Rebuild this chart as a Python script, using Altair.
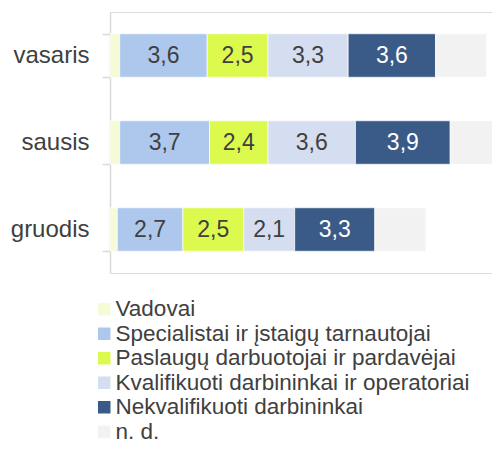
import altair as alt
import pandas as pd

months = ["vasaris", "sausis", "gruodis"]
groups = [
    "Vadovai",
    "Specialistai ir įstaigų tarnautojai",
    "Paslaugų darbuotojai ir pardavėjai",
    "Kvalifikuoti darbininkai ir operatoriai",
    "Nekvalifikuoti darbininkai",
    "n. d.",
]
vadovai = [0.4, 0.4, 0.3]
specialistai = [3.6, 3.7, 2.7]
paslaugu = [2.5, 2.4, 2.5]
kvalifikuoti = [3.3, 3.6, 2.1]
nekvalifikuoti = [3.6, 3.9, 3.3]
nd = [2.1, 2.5, 2.1]
colors = ["#F4FBD6", "#AEC7EC", "#DCF94E", "#D5DEF0", "#3A5A87", "#F2F2F2"]
show_label = [False, True, True, True, True, False]

series = [vadovai, specialistai, paslaugu, kvalifikuoti, nekvalifikuoti, nd]
rows = []
for gi, (g, vals) in enumerate(zip(groups, series)):
    for m, v in zip(months, vals):
        rows.append({"month": m, "group": g, "value": v, "order": gi, "show": show_label[gi]})
df = pd.DataFrame(rows)

FONT = "Liberation Sans"
xscale = alt.Scale(domain=[0, 15.72], nice=False, zero=True)
yenc = alt.Y(
    "month:N",
    sort=months,
    scale=alt.Scale(paddingInner=0.5, paddingOuter=0.25),
    axis=alt.Axis(
        title=None,
        labelFontSize=24,
        labelFont=FONT,
        labelColor="#404040",
        labelPadding=13,
        tickBand="extent",
        tickSize=8,
        tickColor="#D9D9D9",
        tickWidth=1.5,
        domainColor="#D9D9D9",
        domainWidth=1.5,
    ),
)

base = alt.Chart(df)

bars = base.mark_bar(clip=True, stroke="white", strokeWidth=0.7).encode(
    y=yenc,
    x=alt.X("value:Q", stack="zero", scale=xscale, axis=None),
    color=alt.Color(
        "group:N",
        sort=groups,
        scale=alt.Scale(domain=groups, range=colors),
        legend=alt.Legend(
            title=None,
            orient="none",
            legendX=-17,
            legendY=286,
            labelFontSize=22.5,
            labelFont=FONT,
            labelColor="#404040",
            symbolType="square",
            symbolSize=156,
            symbolStrokeWidth=0,
            rowPadding=1.5,
            labelOffset=0,
            labelLimit=420,
        ),
    ),
    order=alt.Order("order:Q"),
)

texts = (
    base.transform_stack(
        stack="value",
        groupby=["month"],
        as_=["x0", "x1"],
        sort=[alt.SortField("order")],
    )
    .transform_calculate(
        mid="(datum.x0 + datum.x1) / 2",
        label="replace(format(datum.value, '.1f'), '.', ',')",
    )
    .transform_filter("datum.show")
    .mark_text(fontSize=23, font=FONT, baseline="middle", align="center")
    .encode(
        y=alt.Y("month:N", sort=months),
        x=alt.X("mid:Q", scale=xscale),
        text="label:N",
        color=alt.condition(
            "datum.group == 'Nekvalifikuoti darbininkai'",
            alt.value("white"),
            alt.value("#404040"),
        ),
    )
)

chart = (
    alt.layer(bars, texts)
    .properties(
        width=382,
        height=261,
        autosize=alt.AutoSizeParams(type="none"),
        padding={"left": 102, "top": 4, "right": 0, "bottom": 174},
    )
    .configure_view(stroke=None)
    .configure(font=FONT)
)

chart.save("out.html", embed_options={"renderer": "svg", "actions": False})
